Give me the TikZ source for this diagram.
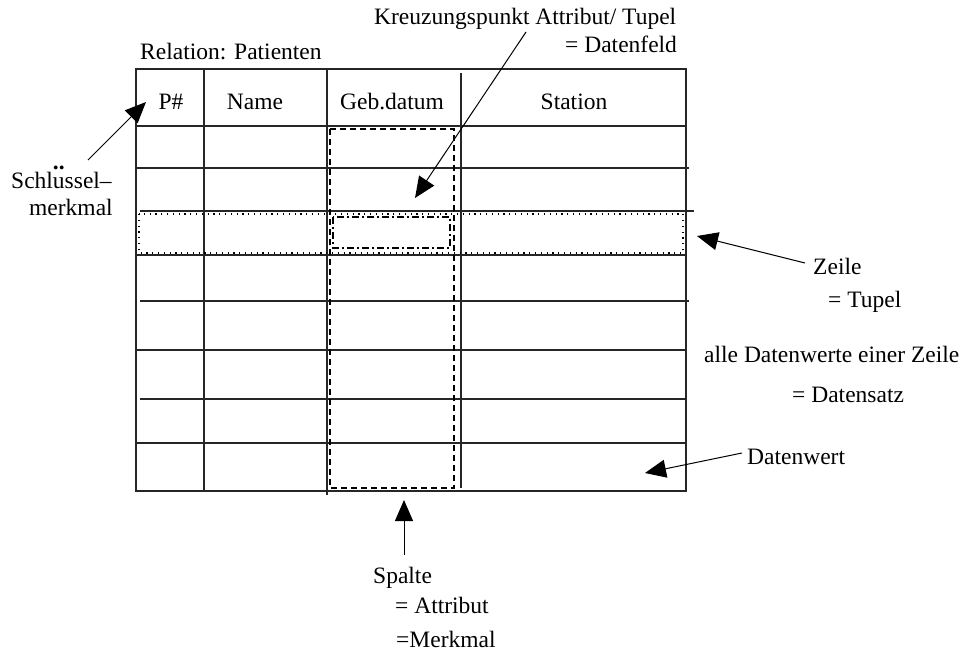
\documentclass[tikz,border=0pt]{standalone}
\usepackage{fontspec}
\setmainfont{Liberation Serif}
\usetikzlibrary{arrows.meta}

\begin{document}
\begin{tikzpicture}[x=1pt,y=-1pt,
  rule/.style={line width=1.1pt, draw=black!85},
  lbl/.style={font=\fontsize{23.5}{28}\selectfont, inner sep=0pt, anchor=base west},
  head/.style={font=\fontsize{23.5}{28}\selectfont, inner sep=0pt, anchor=base},
  pointer/.style={line width=1pt, -{Triangle[length=21pt,width=18pt]}},
  colmark/.style={line width=1.1pt, dash pattern=on 6pt off 4pt},
  rowmark/.style={line width=1.1pt, dash pattern=on 1.2pt off 4.6pt},
  cellmark/.style={line width=1.1pt, dash pattern=on 7pt off 3pt on 2pt off 3pt},
]
\useasboundingbox (0,0) rectangle (975,651);

% table frame and rules
\draw[rule] (136,69) rectangle (686,491);
\draw[rule] (136,126) -- (686,126);
\draw[rule] (136,168) -- (689,168);
\draw[rule] (140,211) -- (694,211);
\draw[rule] (136,255) -- (686,255);
\draw[rule] (140,301) -- (689,301);
\draw[rule] (136,350) -- (686,350);
\draw[rule] (140,399) -- (686,399);
\draw[rule] (136,443) -- (686,443);
\draw[rule] (204,69) -- (204,491);
\draw[rule] (327,69) -- (327,495);
\draw[rule] (461,73) -- (461,488);

% highlighted column, row and cell
\draw[colmark] (330,129) rectangle (454,488);
\draw[rowmark] (139,214) rectangle (683,253);
\draw[cellmark] (333,217) rectangle (450,248);

% header
\node[head] (hp) at (171,109) {P\#};
\node[head] (hn) at (255,109) {Name};
\node[head] (hg) at (392,109) {Geb.datum};
\node[head] (hs) at (574,109) {Station};

% labels
\node[lbl] (rel) at (140,59) {Relation: Patienten};
\node[lbl] (kreuz) at (374,24) {Kreuzungspunkt Attribut/ Tupel};
\node[lbl] (feld) at (565,52) {= Datenfeld};
\node[lbl] (schl) at (11,188) {Schl\rlap{\raisebox{0.8em}{\bfseries ..}}ussel–};
\node[lbl] (merk) at (29,215) {merkmal};
\node[lbl] (zeile) at (813,274) {Zeile};
\node[lbl] (tupel) at (828,307) {= Tupel};
\node[lbl] (alle) at (704,362) {alle Datenwerte einer Zeile};
\node[lbl] (satz) at (792,402) {= Datensatz};
\node[lbl] (wert) at (747,464) {Datenwert};
\node[lbl] (spalte) at (373,583) {Spalte};
\node[lbl] (attr) at (395,613) {= Attribut};
\node[lbl] (mkml) at (396,647) {=Merkmal};

% pointer ends
\coordinate (keyS) at (88,160);   \coordinate (keyT) at (146,102);
\coordinate (fldS) at (526,32);   \coordinate (fldT) at (415,198);
\coordinate (rowS) at (805,263);  \coordinate (rowT) at (697,236);
\coordinate (valS) at (742,453);  \coordinate (valT) at (645,473);
\coordinate (colS) at (404,555);  \coordinate (colT) at (404,500);

\draw[pointer] (keyS) -- (keyT);
\draw[pointer] (fldS) -- (fldT);
\draw[pointer] (rowS) -- (rowT);
\draw[pointer] (valS) -- (valT);
\draw[pointer] (colS) -- (colT);
\end{tikzpicture}
\end{document}
